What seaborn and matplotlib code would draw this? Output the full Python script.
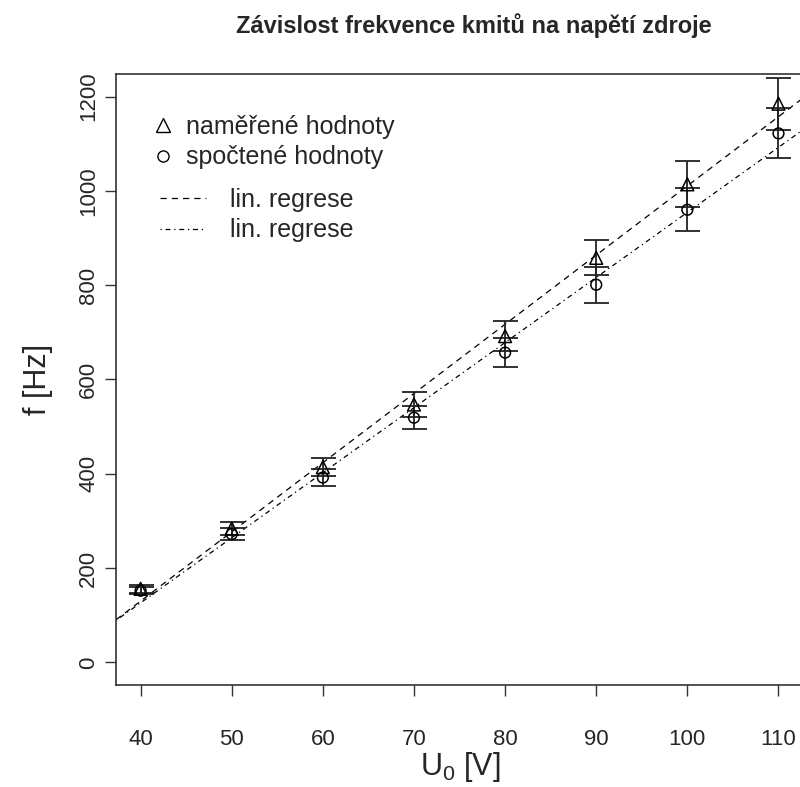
import numpy as np
import pandas as pd
import matplotlib
matplotlib.use("Agg")
import matplotlib.pyplot as plt
from matplotlib.lines import Line2D
import seaborn as sns

# data
napeti = [40, 50, 60, 70, 80, 90, 100, 110]
f_namerene = [156, 284, 414, 547, 692, 858, 1014, 1185]
err_namerene = [8, 14, 19, 27, 32, 37, 49, 55]
f_spoctene = [152, 272, 392, 519, 657, 801, 960, 1122]
err_spoctene = [7, 13, 18, 25, 31, 38, 46, 53]
yticks = [0, 200, 400, 600, 800, 1000, 1200]

df = pd.DataFrame({"U": napeti, "f_nam": f_namerene, "f_spo": f_spoctene})

sns.set_style("ticks")
plt.rcParams["font.family"] = ["Liberation Sans", "DejaVu Sans"]

fig = plt.figure(figsize=(8, 7.87), dpi=100)
W, H = 800, 787
left, right, top, bottom = 116, 804, 74, 685
ax = fig.add_axes([left / W, (H - bottom) / H, (right - left) / W, (bottom - top) / H])

# error bars
ax.errorbar(df["U"], df["f_nam"], yerr=err_namerene, fmt="none", ecolor="#222222",
            elinewidth=1.3, capsize=9, capthick=1.3, zorder=2)
ax.errorbar(df["U"], df["f_spo"], yerr=err_spoctene, fmt="none", ecolor="#222222",
            elinewidth=1.3, capsize=9, capthick=1.3, zorder=2)

# points
sns.scatterplot(data=df, x="U", y="f_nam", marker="^", s=85, facecolors="none",
                edgecolor="black", linewidth=1.1, ax=ax, zorder=3)
sns.scatterplot(data=df, x="U", y="f_spo", marker="o", s=60, facecolors="none",
                edgecolor="black", linewidth=1.1, ax=ax, zorder=3)

# linear regression lines
k1, q1 = np.polyfit(napeti, f_namerene, 1)
k2, q2 = np.polyfit(napeti, f_spoctene, 1)
ax.axline((0, q1), slope=k1, color="black", lw=0.9, ls=(0, (5, 4)), zorder=1)
ax.axline((0, q2), slope=k2, color="black", lw=0.9, ls=(0, (1, 3, 4, 3)), zorder=1)

ax.set_xlim(37.3, 112.8)
ax.set_ylim(-48, 1248)
ax.set_xticks(napeti)
ax.set_yticks(yticks)
ax.set_xlabel(r"U$_{\mathregular{0}}$ [V]", fontsize=22, labelpad=0)
ax.set_ylabel("f [Hz]", fontsize=22, labelpad=18)
ax.tick_params(axis="both", labelsize=16, length=8, width=1, color="#333333", direction="out")
ax.tick_params(axis="x", pad=24)
ax.tick_params(axis="y", pad=4)
for lab in ax.get_yticklabels():
    lab.set_rotation(90)
    lab.set_va("center")
for sp in ax.spines.values():
    sp.set_visible(True)
    sp.set_color("#333333")
    sp.set_linewidth(1.2)

# legends
h1 = [Line2D([], [], marker="^", ls="none", mfc="none", mec="black", ms=10),
      Line2D([], [], marker="o", ls="none", mfc="none", mec="black", ms=8)]
leg1 = ax.legend(h1, ["naměřené hodnoty", "spočtené hodnoty"], loc="upper left",
                 bbox_to_anchor=(150 / W, 1 - 115 / H), bbox_transform=fig.transFigure,
                 frameon=False, fontsize=18, handlelength=1.0, handletextpad=0.45,
                 borderpad=0, borderaxespad=0, labelspacing=0.25)
ax.add_artist(leg1)
h2 = [Line2D([], [], color="black", lw=0.9, ls=(0, (5, 4))),
      Line2D([], [], color="black", lw=0.9, ls=(0, (1, 3, 4, 3)))]
ax.legend(h2, ["lin. regrese", "lin. regrese"], loc="upper left",
          bbox_to_anchor=(160 / W, 1 - 188 / H), bbox_transform=fig.transFigure,
          frameon=False, fontsize=18, handlelength=1.85, handletextpad=0.95,
          borderpad=0, borderaxespad=0, labelspacing=0.25)

fig.text(474 / W, 1 - 26 / H, "Závislost frekvence kmitů na napětí zdroje",
         ha="center", va="center", fontsize=17, fontweight="bold")

fig.savefig("out.png", dpi=100)
